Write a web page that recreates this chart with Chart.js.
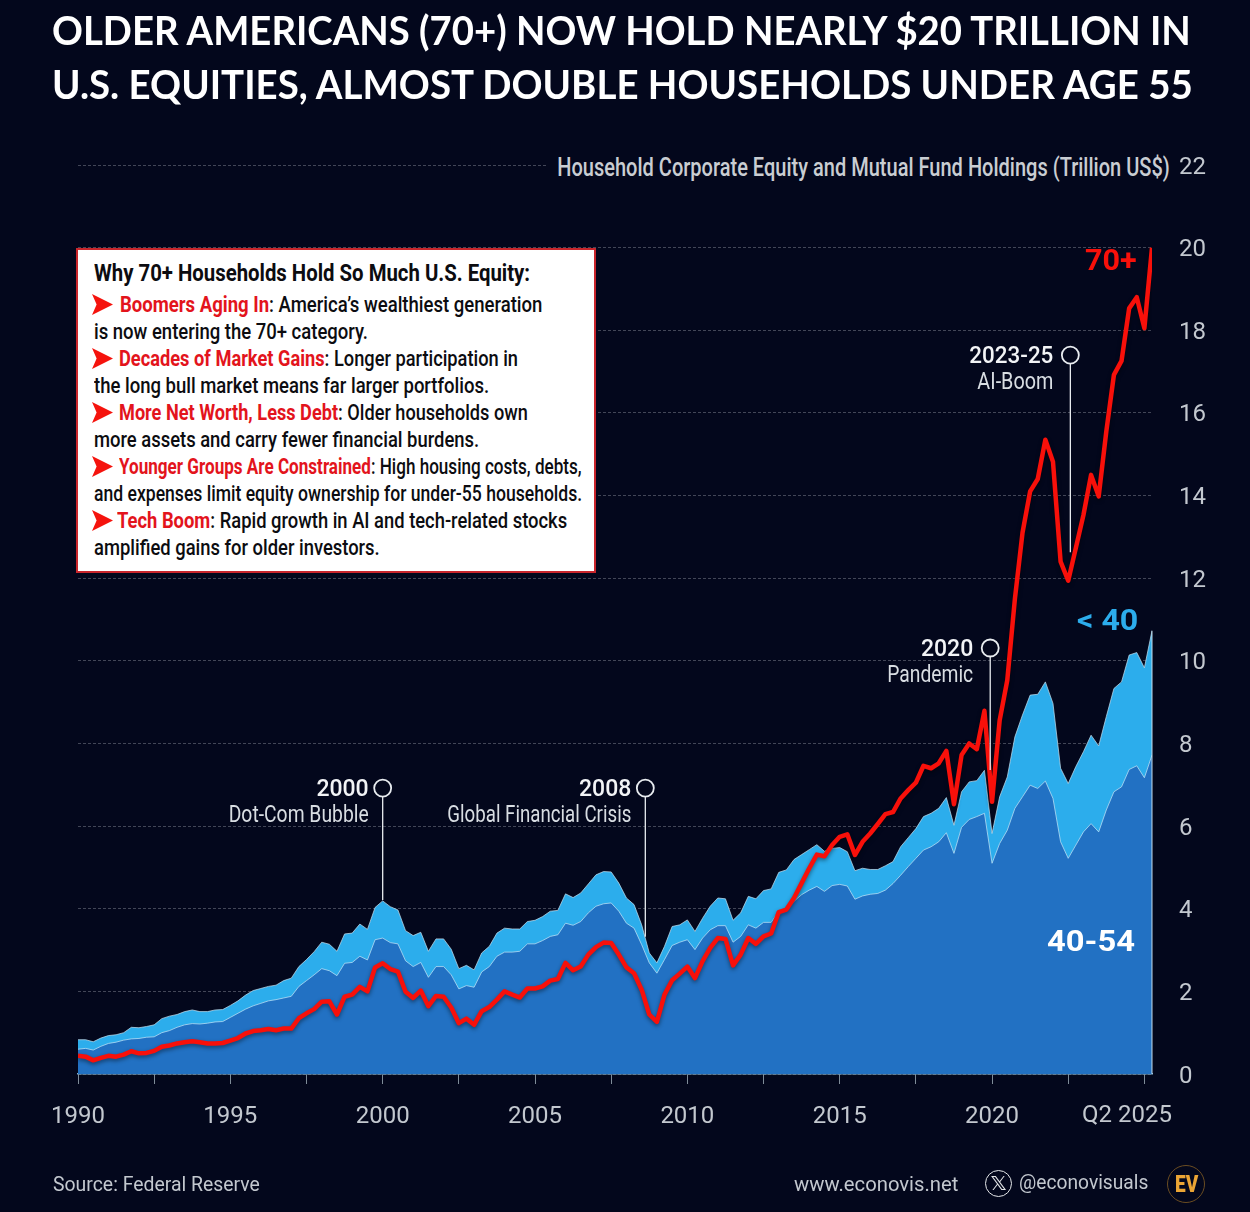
<!DOCTYPE html>
<html>
<head>
<meta charset="utf-8">
<title>Older Americans equity holdings</title>
<script src="https://cdn.jsdelivr.net/npm/chart.js@4"></script>
<style>
    html, body { margin: 0; padding: 0; background: #03071c; overflow: hidden; }
    #wrap { position: relative; width: 1250px; height: 1212px; }
    #chart { position: absolute; left: 0; top: 0; }
    .txt { position: absolute; white-space: pre; transform-origin: left center; }
    #box { position: absolute; left: 76px; top: 248px; width: 516px; height: 321px; background: #fff; border: 2px solid #c9262c; }
    .arrow { position: absolute; width: 21px; height: 21px; background: #f5130d; clip-path: polygon(0 0, 100% 50%, 0 100%, 22% 50%); }
    .red { color: #e3141c; font-weight: 700; }
</style>
</head>
<body>
<div id="wrap">
    <canvas id="chart" width="1250" height="1212"></canvas>
</div>
<script>
// Quarterly, Q1 1990 to Q2 2025, trillion US$
const startYear = 1990;
const top70plus = [
    .44,.42,.33,.39,.44,.42,.47,.55,.50,.51,
    .56,.66,.69,.74,.77,.79,.77,.74,.74,.75,
    .81,.87,.98,1.04,1.06,1.09,1.06,1.10,1.10,1.35,
    1.47,1.57,1.75,1.76,1.44,1.87,1.92,2.11,2.00,2.58,
    2.68,2.54,2.48,1.99,1.84,2.02,1.64,1.89,1.87,1.61,
    1.23,1.34,1.19,1.52,1.62,1.80,2.00,1.92,1.85,2.07,
    2.07,2.12,2.26,2.30,2.69,2.51,2.60,2.89,3.07,3.18,
    3.17,2.89,2.58,2.44,2.04,1.44,1.26,1.92,2.27,2.43,
    2.60,2.32,2.73,3.05,3.29,3.27,2.63,2.89,3.29,3.15,
    3.33,3.40,3.92,3.98,4.26,4.62,4.98,5.31,5.27,5.54,
    5.74,5.80,5.30,5.62,5.82,6.05,6.29,6.34,6.67,6.87,
    7.05,7.46,7.40,7.52,7.82,6.53,7.72,8.00,7.86,8.79,
    6.59,8.56,9.53,11.5,13.1,14.1,14.4,15.35,14.82,12.4,
    11.94,12.73,13.53,14.5,13.98,15.55,16.92,17.26,18.53,18.8,
    18.05,20.0
];
const top40to54 = [
    .60,.62,.58,.67,.74,.77,.82,.85,.86,.89,
    .90,1.00,1.05,1.13,1.19,1.22,1.21,1.23,1.26,1.27,
    1.37,1.47,1.57,1.65,1.71,1.77,1.80,1.84,1.88,2.12,
    2.26,2.40,2.55,2.50,2.38,2.68,2.70,2.85,2.76,3.25,
    3.29,3.18,3.15,2.74,2.60,2.70,2.34,2.60,2.60,2.40,
    2.06,2.14,2.10,2.47,2.60,2.85,2.95,2.95,2.97,3.15,
    3.15,3.23,3.33,3.37,3.65,3.60,3.69,3.90,4.06,4.12,
    4.14,3.94,3.65,3.53,3.13,2.69,2.44,2.77,3.11,3.19,
    3.25,3.01,3.29,3.49,3.59,3.59,3.19,3.33,3.61,3.53,
    3.67,3.67,3.94,4.00,4.18,4.34,4.45,4.54,4.42,4.56,
    4.59,4.55,4.23,4.31,4.35,4.37,4.45,4.61,4.81,5.02,
    5.22,5.42,5.50,5.62,5.84,5.34,5.97,6.16,6.23,6.31,
    5.10,5.58,5.90,6.43,6.71,6.99,6.91,7.09,6.67,5.62,
    5.22,5.54,5.86,6.06,5.86,6.39,6.83,6.95,7.37,7.46,
    7.17,7.72
];
const topUnder40 = [
    .83,.83,.78,.87,.93,.95,1.00,1.13,1.12,1.15,
    1.19,1.34,1.40,1.44,1.51,1.55,1.51,1.51,1.55,1.56,
    1.66,1.77,1.91,2.02,2.07,2.12,2.15,2.26,2.32,2.60,
    2.77,2.96,3.19,3.14,2.97,3.39,3.41,3.63,3.50,4.03,
    4.19,4.05,3.97,3.47,3.35,3.43,2.97,3.27,3.27,3.02,
    2.55,2.63,2.52,2.93,3.09,3.41,3.53,3.51,3.51,3.69,
    3.72,3.81,3.94,3.96,4.36,4.27,4.38,4.60,4.82,4.90,
    4.89,4.62,4.26,4.10,3.61,2.93,2.69,3.09,3.57,3.61,
    3.73,3.45,3.77,4.06,4.26,4.24,3.72,3.90,4.30,4.24,
    4.44,4.48,4.88,4.94,5.19,5.31,5.43,5.55,5.39,5.46,
    5.48,5.38,4.92,4.98,4.95,4.95,5.04,5.14,5.50,5.72,
    5.94,6.23,6.31,6.43,6.69,6.02,6.83,7.07,7.10,7.35,
    5.82,6.71,7.19,8.16,8.69,9.17,9.19,9.49,8.97,7.40,
    7.03,7.44,7.80,8.20,7.94,8.65,9.33,9.49,10.14,10.20,
    9.83,10.73
];

const xTickYears = [1990,1992.5,1995,1997.5,2000,2002.5,2005,2007.5,2010,2012.5,2015,2017.5,2020,2022.5,2025];
const xTickLabels = ['1990','','1995','','2000','','2005','','2010','','2015','','2020','',''];
const yTicks = [0,2,4,6,8,10,12,14,16,18,20,22];

// callouts: year, line bottom, circle height, heading, sub text
const calloutYears = [2000, 2008.62, 2019.94, 2022.57];
const calloutBottoms = [4.21, 3.32, 7.36, 12.63];
const calloutTops = [6.92, 6.92, 10.31, 17.40];
const calloutHeads = ['2000', '2008', '2020', '2023-25'];
const calloutSubs = ['Dot-Com Bubble', 'Global Financial Crisis', 'Pandemic', 'AI-Boom'];
const calloutHeadWidths = [53, 53, 53, 84];
const calloutSubWidths = [140, 184, 86, 76];
const calloutGaps = [14, 14, 17, 17];

const boxLines = [
    [null, 'Why 70+ Households Hold So Much U.S. Equity:', 94, 530],
    ['Boomers Aging In', ': America\u2019s wealthiest generation', 120, 542],
    [null, 'is now entering the 70+ category.', 94, 368],
    ['Decades of Market Gains', ': Longer participation in', 119, 518],
    [null, 'the long bull market means far larger portfolios.', 94, 489],
    ['More Net Worth, Less Debt', ': Older households own', 119, 528],
    [null, 'more assets and carry fewer financial burdens.', 94, 479],
    ['Younger Groups Are Constrained', ': High housing costs, debts,', 119, 582],
    [null, 'and expenses limit equity ownership for under-55 households.', 94, 582],
    ['Tech Boom', ': Rapid growth in AI and tech-related stocks', 117, 567],
    [null, 'amplified gains for older investors.', 94, 380]
];

const toPoints = arr => arr.map((v, i) => ({ x: startYear + i / 4, y: v }));
const wrap = document.getElementById('wrap');

// put a line of text between two x positions, squeezed to that width
function place(html, x0, x1, yc, font, color) {
    const el = document.createElement('div');
    el.className = 'txt';
    el.innerHTML = html;
    el.style.font = font;
    el.style.color = color;
    el.style.left = x0 + 'px';
    el.style.lineHeight = '40px';
    el.style.top = (yc - 20) + 'px';
    wrap.appendChild(el);
    el.style.transform = 'scaleX(' + ((x1 - x0) / el.offsetWidth) + ')';
    return el;
}

// callouts and the pale right edge, placed through the chart's scales
const overlayPlugin = {
    id: 'overlay',
    beforeDatasetDraw(chart, args) {
        if (args.index === 0) {
            chart.ctx.save();
            chart.ctx.shadowColor = 'rgba(0,0,0,0.45)';
            chart.ctx.shadowBlur = 4;
            chart.ctx.shadowOffsetY = 2;
        }
    },
    afterDatasetDraw(chart, args) {
        if (args.index === 0) chart.ctx.restore();
    },
    afterDatasetsDraw(chart) {
        const ctx = chart.ctx;
        const x = chart.scales.x, y = chart.scales.y;
        ctx.save();
        const lastX = x.getPixelForValue(startYear + (topUnder40.length - 1) / 4);
        ctx.strokeStyle = 'rgba(205,228,240,0.8)';
        ctx.lineWidth = 1.2;
        ctx.beginPath();
        ctx.moveTo(lastX, y.getPixelForValue(topUnder40[topUnder40.length - 1]));
        ctx.lineTo(lastX, y.getPixelForValue(0));
        ctx.stroke();

        calloutYears.forEach((yr, i) => {
            const px = x.getPixelForValue(yr);
            const top = y.getPixelForValue(calloutTops[i]);
            ctx.strokeStyle = '#e8ecf0';
            ctx.lineWidth = 1.3;
            ctx.beginPath();
            ctx.moveTo(px, top + 9);
            ctx.lineTo(px, y.getPixelForValue(calloutBottoms[i]));
            ctx.stroke();
            ctx.lineWidth = 1.8;
            ctx.beginPath();
            ctx.arc(px, top, 8.5, 0, Math.PI * 2);
            ctx.stroke();
            ctx.fillStyle = '#f2f4f6';
            ctx.textAlign = 'right';
            ctx.textBaseline = 'middle';
            ctx.font = '500 23px Roboto, sans-serif';
            ctx.fillText(calloutHeads[i], px - calloutGaps[i], top + 2, calloutHeadWidths[i]);
            ctx.fillStyle = '#d8dde2';
            ctx.font = '24px Roboto, sans-serif';
            ctx.fillText(calloutSubs[i], px - calloutGaps[i], top + 28, calloutSubWidths[i]);
        });
        ctx.restore();
    }
};

new Chart(document.getElementById('chart'), {
    type: 'line',
    data: {
        datasets: [
            { label: '70+', data: toPoints(top70plus), borderColor: '#f8100a', borderWidth: 4.5, pointRadius: 0, fill: false, borderJoinStyle: 'round' },
            { label: '40-54', data: toPoints(top40to54), borderColor: 'rgba(190,225,245,0.75)', borderWidth: 1, pointRadius: 0, backgroundColor: '#2271c3', fill: 'origin' },
            { label: '< 40', data: toPoints(topUnder40), borderColor: 'rgba(200,225,240,0.7)', borderWidth: 1, pointRadius: 0, backgroundColor: '#2cadec', fill: 'origin' }
        ]
    },
    plugins: [overlayPlugin],
    options: {
        responsive: false,
        animation: false,
        devicePixelRatio: 1,
        layout: { padding: { left: 78, top: 165, right: 0, bottom: 0 } },
        plugins: { legend: { display: false }, tooltip: { enabled: false } },
        scales: {
            x: {
                type: 'linear',
                min: 1990,
                max: 2025.25,
                afterBuildTicks: scale => { scale.ticks = xTickYears.map(v => ({ value: v })); },
                afterFit: scale => { scale.height = 138; },
                grid: { drawOnChartArea: false, drawTicks: true, tickLength: 10, color: '#7f8c99', tickColor: '#7f8c99' },
                border: { color: '#7fb0d0', width: 1.5 },
                ticks: {
                    color: '#c3c8cf',
                    font: { family: 'Roboto, sans-serif', size: 24 },
                    padding: 19,
                    maxRotation: 0,
                    autoSkip: false,
                    callback: value => xTickLabels[xTickYears.indexOf(value)]
                }
            },
            y: {
                position: 'right',
                min: 0,
                max: 22,
                afterBuildTicks: scale => { scale.ticks = yTicks.map(v => ({ value: v })); },
                afterFit: scale => { scale.width = 98; },
                grid: { drawTicks: false, color: 'rgba(200,205,210,0.32)', lineWidth: 1 },
                border: { display: false, dash: [3, 2] },
                ticks: {
                    color: '#c3c8cf',
                    font: { family: 'Roboto, sans-serif', size: 24 },
                    padding: 27,
                    labelOffset: 2.5,
                    callback: value => String(value)
                }
            }
        }
    }
});

// Title
place('OLDER AMERICANS (70+) NOW HOLD NEARLY $20 TRILLION IN', 52, 1191, 30, '700 40px Lato, sans-serif', '#fff');
place('U.S. EQUITIES, ALMOST DOUBLE HOUSEHOLDS UNDER AGE 55', 52, 1193, 84, '700 40px Lato, sans-serif', '#fff');

// Axis title, hides the end of the top gridline behind it
const axisTitle = place('Household Corporate Equity and Mutual Fund Holdings (Trillion US$)', 546, 1170, 168, '500 25px Roboto, sans-serif', '#c9cdd2');
axisTitle.style.background = '#03071c';
axisTitle.style.paddingLeft = '14px';
axisTitle.style.transform = 'scaleX(' + (624 / axisTitle.offsetWidth) + ')';

place('Q2 2025', 1082, 1172, 1114, '24px Roboto, sans-serif', '#c3c8cf');

// Series labels
place('70+', 1085, 1137, 260, '700 30px Roboto, sans-serif', '#f8100a');
place('&lt; 40', 1077, 1138, 620, '700 29px Roboto, sans-serif', '#2cadec');
place('40-54', 1047, 1135, 941, '700 29px Roboto, sans-serif', '#fff');

// Text box
const box = document.createElement('div');
box.id = 'box';
wrap.appendChild(box);
boxLines.forEach((line, i) => {
    const yc = i === 0 ? 274 : 278 + 27 * i;
    const html = line[0] ? '<span class="red">' + line[0] + '</span>' + line[1] : line[1];
    place(html, line[2], line[3], yc, (i === 0 ? '700 23px' : '500 22px') + ' Roboto, sans-serif', '#0c0c10');
    if (line[0]) {
        const arrow = document.createElement('div');
        arrow.className = 'arrow';
        arrow.style.left = '92px';
        arrow.style.top = (yc - 11) + 'px';
        wrap.appendChild(arrow);
    }
});

// Footer
place('Source: Federal Reserve', 53, 260, 1184, '21px Roboto, sans-serif', '#c3c8cf');
place('www.econovis.net', 794, 958, 1184, '21px Roboto, sans-serif', '#c3c8cf');
place('@econovisuals', 1019, 1148, 1182, '21px Roboto, sans-serif', '#c3c8cf');

place('\u{1D54F}', 990, 1007, 1183, '20px "DejaVu Sans", sans-serif', '#e6e8ea');
const xRing = document.createElement('div');
xRing.style.cssText = 'position:absolute;left:985px;top:1170px;width:25px;height:25px;border:1.5px solid #e6e8ea;border-radius:50%;';
wrap.appendChild(xRing);

const evRing = document.createElement('div');
evRing.style.cssText = 'position:absolute;left:1167px;top:1165px;width:36px;height:36px;border:1.5px solid #6b4d22;border-radius:50%;';
wrap.appendChild(evRing);
place('EV', 1175, 1198, 1184, '900 24px Roboto, sans-serif', '#eba535');
</script>
</body>
</html>
